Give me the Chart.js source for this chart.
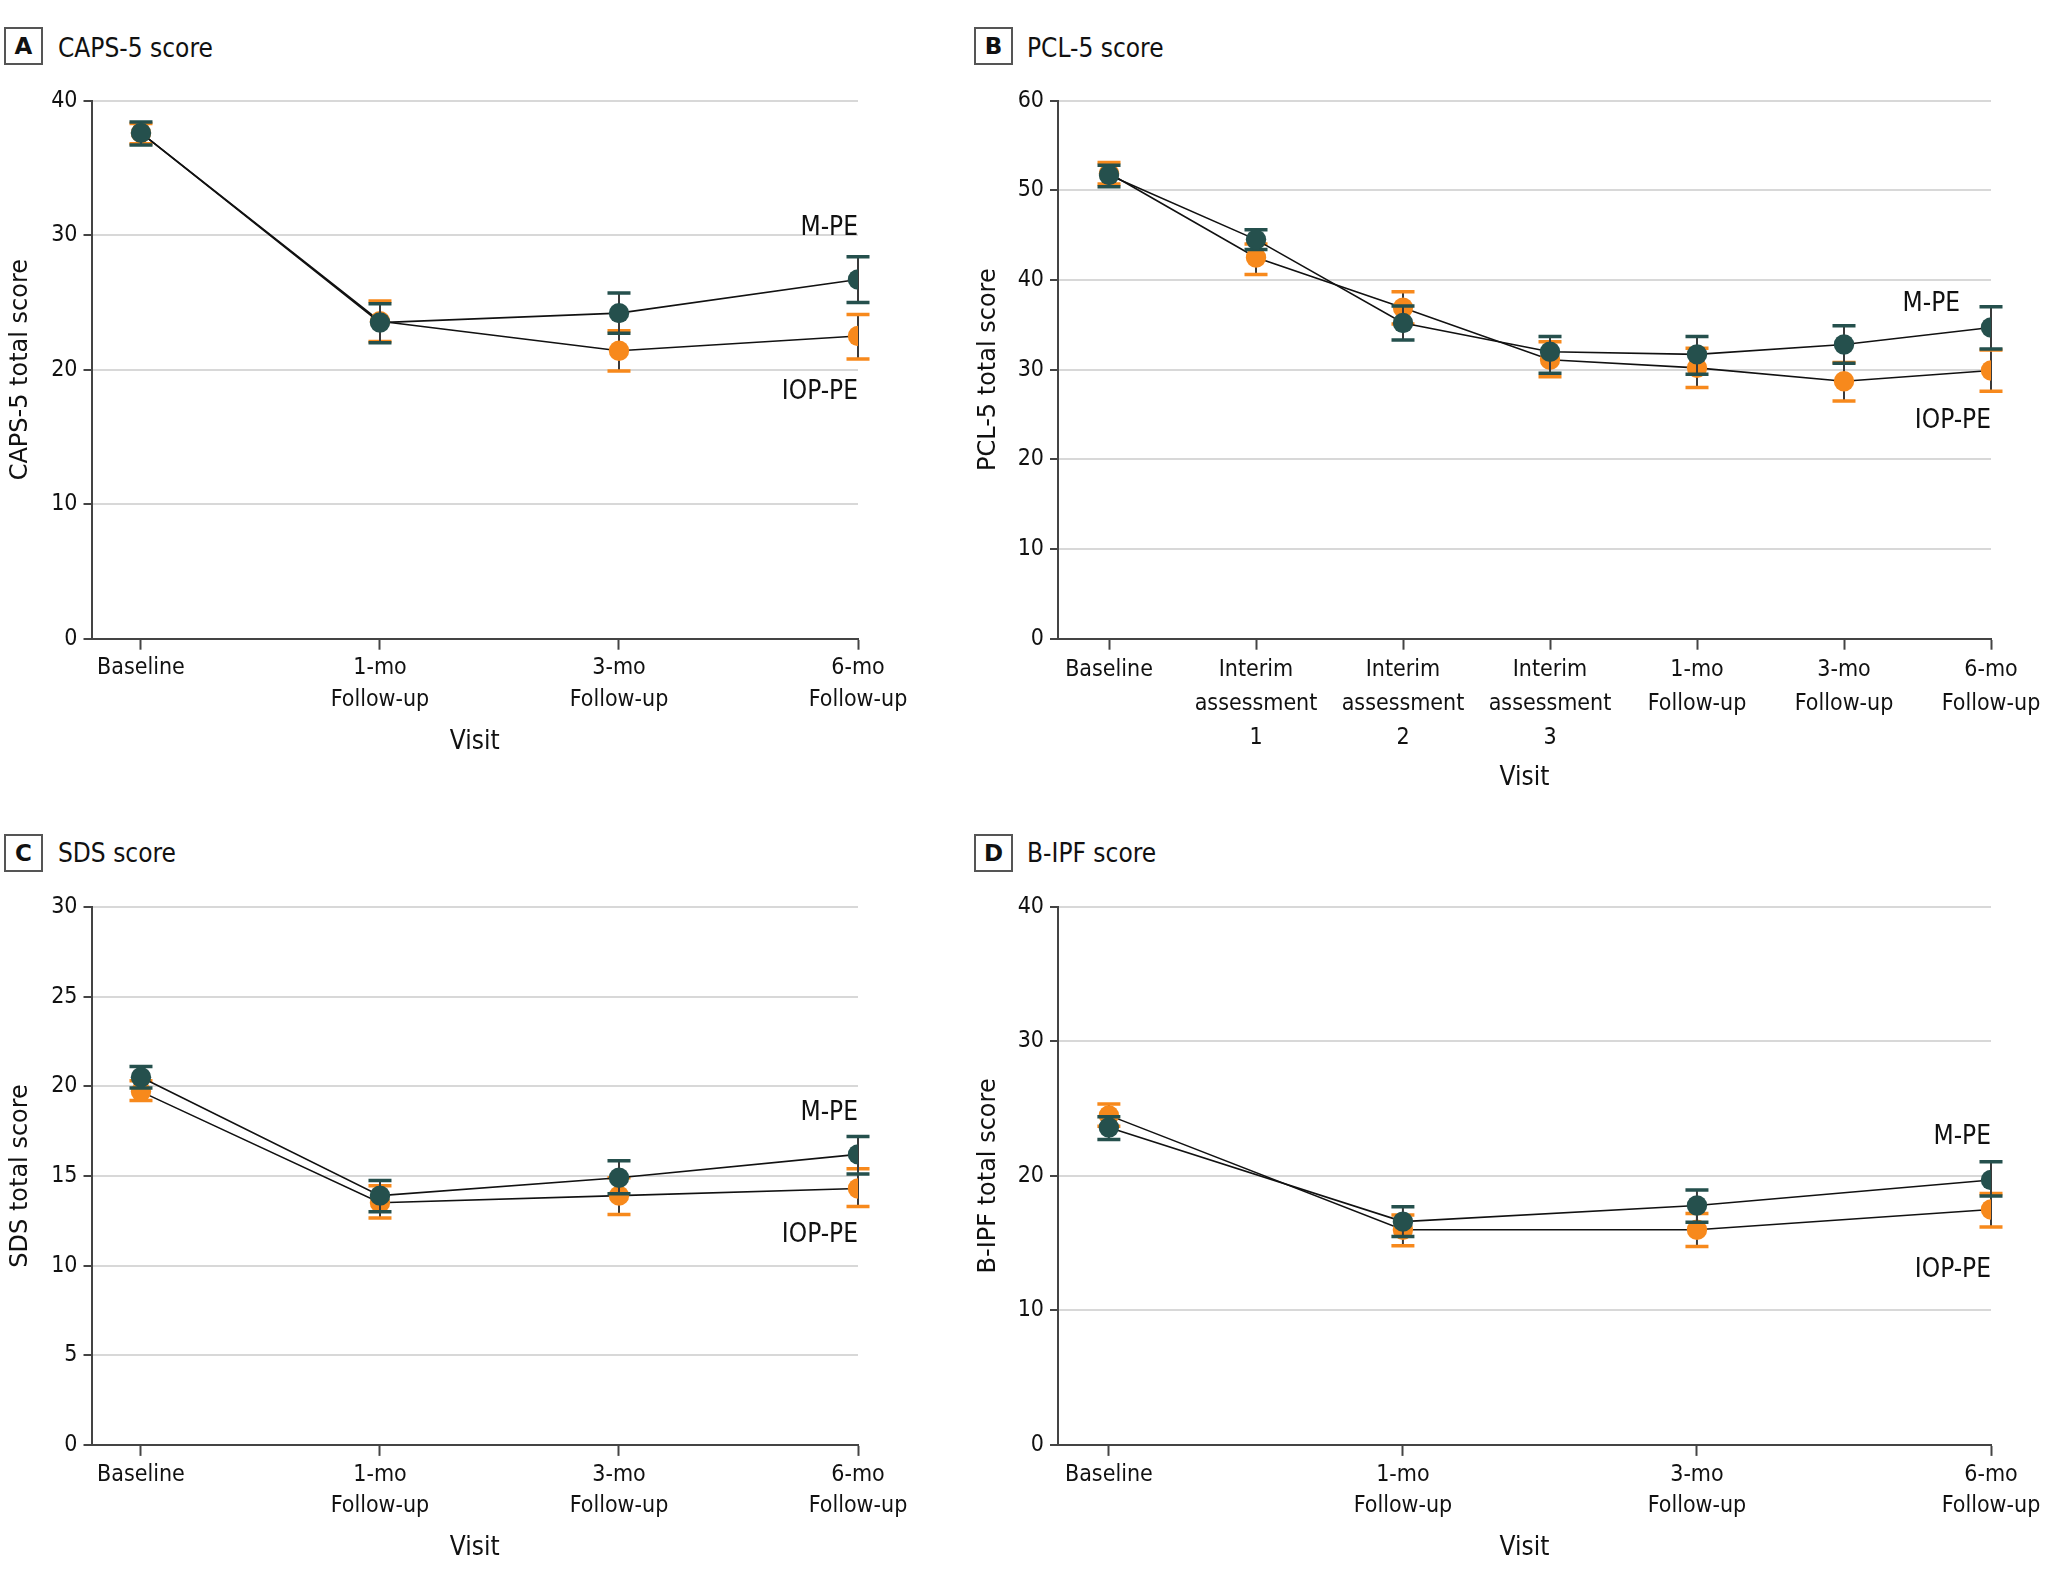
<!DOCTYPE html>
<html>
<head>
<meta charset="utf-8">
<script src="https://cdn.jsdelivr.net/npm/chart.js@4.4.1/dist/chart.umd.min.js"></script>
<style>
	body { margin: 0; background: #ffffff; }
	#page { position: relative; width: 2048px; height: 1579px; background: #ffffff; overflow: hidden; }
	canvas { position: absolute; }
	.tag { position: absolute; width: 35px; height: 34px; border: 2px solid #555555; font: bold 23px "DejaVu Sans", sans-serif; color: #111111; text-align: center; line-height: 34px; }
	.ttl { position: absolute; font: 26px "DejaVu Sans Condensed", "Liberation Sans Narrow", sans-serif; color: #111111; line-height: 30px; }
</style>
</head>
<body>
<div id="page">
	<div class="tag" style="left:4px;top:27px">A</div><div class="ttl" style="left:58px;top:33px">CAPS-5 score</div>
	<div class="tag" style="left:974px;top:27px">B</div><div class="ttl" style="left:1027px;top:33px">PCL-5 score</div>
	<div class="tag" style="left:4px;top:834px">C</div><div class="ttl" style="left:58px;top:838px">SDS score</div>
	<div class="tag" style="left:974px;top:834px">D</div><div class="ttl" style="left:1027px;top:838px">B-IPF score</div>
	<canvas id="chartA" width="960" height="790" style="left:0px;top:0px"></canvas>
	<canvas id="chartB" width="1082" height="796" style="left:966px;top:0px"></canvas>
	<canvas id="chartC" width="960" height="789" style="left:0px;top:790px"></canvas>
	<canvas id="chartD" width="1082" height="789" style="left:966px;top:790px"></canvas>
</div>
<script>
// Visit labels
const visits4 = [['Baseline'], ['1-mo', 'Follow-up'], ['3-mo', 'Follow-up'], ['6-mo', 'Follow-up']];
const visits7 = [['Baseline'], ['Interim', 'assessment', '1'], ['Interim', 'assessment', '2'], ['Interim', 'assessment', '3'],
	['1-mo', 'Follow-up'], ['3-mo', 'Follow-up'], ['6-mo', 'Follow-up']];

// A - CAPS-5
const capsM = [37.6, 23.5, 24.2, 26.7];
const capsMLow = [36.7, 22.0, 22.7, 25.0];
const capsMHigh = [38.4, 24.9, 25.7, 28.4];
const capsI = [37.6, 23.6, 21.4, 22.5];
const capsILow = [36.8, 22.1, 19.9, 20.8];
const capsIHigh = [38.3, 25.1, 22.9, 24.1];

// B - PCL-5
const pclM = [51.7, 44.5, 35.2, 32.0, 31.7, 32.8, 34.7];
const pclMLow = [50.4, 43.4, 33.3, 29.6, 29.5, 30.7, 32.3];
const pclMHigh = [52.8, 45.6, 37.1, 33.7, 33.7, 34.9, 37.0];
const pclI = [51.9, 42.5, 36.9, 31.1, 30.2, 28.7, 29.9];
const pclILow = [50.7, 40.6, 35.1, 29.2, 28.0, 26.5, 27.6];
const pclIHigh = [53.1, 44.0, 38.7, 33.1, 32.4, 30.8, 32.2];

// C - SDS
const sdsM = [20.5, 13.9, 14.9, 16.2];
const sdsMLow = [19.9, 13.0, 14.0, 15.1];
const sdsMHigh = [21.1, 14.75, 15.85, 17.2];
const sdsI = [19.7, 13.5, 13.9, 14.3];
const sdsILow = [19.2, 12.65, 12.85, 13.3];
const sdsIHigh = [20.3, 14.45, 14.9, 15.4];

// D - B-IPF
const ipfM = [23.6, 16.6, 17.8, 19.7];
const ipfMLow = [22.7, 15.5, 16.55, 18.5];
const ipfMHigh = [24.4, 17.7, 18.95, 21.05];
const ipfI = [24.5, 16.0, 16.0, 17.5];
const ipfILow = [23.7, 14.8, 14.75, 16.2];
const ipfIHigh = [25.35, 17.1, 17.2, 18.7];

// group label anchors [visit index, score]
const labelsA = { m: [3, 30.5], i: [3, 18.3] };
const labelsB = { m: [5.79, 37.3], i: [6, 24.3] };
const labelsC = { m: [3, 18.5], i: [3, 11.7] };
const labelsD = { m: [3, 22.9], i: [3, 13.0] };

const colM = '#25504d';
const colI = '#f7891c';
const condensed = '"DejaVu Sans Condensed", "Liberation Sans Narrow", sans-serif';
const regular = '"DejaVu Sans", sans-serif';

function toPoints(arr) {
	return arr.map((v, i) => ({ x: i, y: v }));
}

// error bars drawn under each dataset
const errorBars = {
	id: 'errorBars',
	beforeDatasetDraw(chart, args) {
		const ds = chart.data.datasets[args.index];
		if (!ds.errLow) return;
		const ctx = chart.ctx;
		const xs = chart.scales.x, ys = chart.scales.y;
		ctx.save();
		ds.data.forEach((p, i) => {
			const x = xs.getPixelForValue(p.x);
			const y1 = ys.getPixelForValue(ds.errLow[i]);
			const y2 = ys.getPixelForValue(ds.errHigh[i]);
			ctx.strokeStyle = '#3a3a3a';
			ctx.lineWidth = 2;
			ctx.beginPath();
			ctx.moveTo(x, y1);
			ctx.lineTo(x, y2);
			ctx.stroke();
			ctx.strokeStyle = ds.pointBackgroundColor;
			ctx.lineWidth = 3.5;
			ctx.beginPath();
			ctx.moveTo(x - 11.5, y1);
			ctx.lineTo(x + 11.5, y1);
			ctx.moveTo(x - 11.5, y2);
			ctx.lineTo(x + 11.5, y2);
			ctx.stroke();
		});
		ctx.restore();
	}
};

// M-PE / IOP-PE labels
const groupLabels = {
	id: 'groupLabels',
	afterDatasetsDraw(chart, args, opts) {
		const ctx = chart.ctx;
		const xs = chart.scales.x, ys = chart.scales.y;
		ctx.save();
		ctx.font = '26px ' + condensed;
		ctx.fillStyle = '#111111';
		ctx.textAlign = 'right';
		ctx.textBaseline = 'middle';
		ctx.fillText('M-PE', xs.getPixelForValue(opts.m[0]), ys.getPixelForValue(opts.m[1]));
		ctx.fillText('IOP-PE', xs.getPixelForValue(opts.i[0]), ys.getPixelForValue(opts.i[1]));
		ctx.restore();
	}
};

function makeChart(id, p) {
	const ctx = document.getElementById(id).getContext('2d');
	return new Chart(ctx, {
		type: 'line',
		data: {
			datasets: [
				{
					label: 'M-PE',
					data: toPoints(p.m),
					errLow: p.mLow,
					errHigh: p.mHigh,
					borderColor: '#111111',
					borderWidth: 1.6,
					pointBackgroundColor: colM,
					pointBorderWidth: 0,
					pointRadius: 10.2,
					tension: 0
				},
				{
					label: 'IOP-PE',
					data: toPoints(p.i),
					errLow: p.iLow,
					errHigh: p.iHigh,
					borderColor: '#111111',
					borderWidth: 1.6,
					pointBackgroundColor: colI,
					pointBorderWidth: 0,
					pointRadius: 10.2,
					tension: 0
				}
			]
		},
		options: {
			responsive: false,
			animation: false,
			devicePixelRatio: 1,
			layout: { padding: { left: 0, right: p.padRight, top: p.padTop, bottom: 0 } },
			plugins: {
				legend: { display: false },
				tooltip: { enabled: false },
				groupLabels: p.labels
			},
			scales: {
				x: {
					type: 'linear',
					min: p.xMin,
					max: p.visits.length - 1,
					afterBuildTicks: (axis) => { axis.ticks = p.visits.map((_, i) => ({ value: i })); },
					afterFit: (scale) => { scale.height = p.xHeight; },
					ticks: {
						autoSkip: false,
						maxRotation: 0,
						padding: 3,
						color: '#111111',
						font: { family: condensed, size: 23, lineHeight: p.tickLH },
						callback: (v) => p.visits[Math.round(v)]
					},
					grid: { drawOnChartArea: false, tickLength: 11, tickColor: '#444444', tickWidth: 2 },
					border: { color: '#444444', width: 2 },
					title: {
						display: true,
						text: 'Visit',
						color: '#111111',
						font: { family: condensed, size: 26, lineHeight: 1.2 },
						padding: { top: 0, bottom: p.visitPad }
					}
				},
				y: {
					min: 0,
					max: p.yMax,
					afterFit: (scale) => { scale.width = p.yWidth; },
					ticks: {
						stepSize: p.step,
						padding: 6,
						color: '#111111',
						font: { family: condensed, size: 23 }
					},
					grid: {
						color: (c) => c.tick && c.tick.value === 0 ? 'rgba(0,0,0,0)' : '#d8d8d8',
						lineWidth: 2,
						tickLength: 8,
						tickColor: '#444444',
						tickWidth: 2
					},
					border: { color: '#444444', width: 2 },
					title: {
						display: true,
						text: p.yTitle,
						color: '#111111',
						font: { family: regular, size: 24, lineHeight: 1.2 },
						padding: { top: p.yTitlePad, bottom: 0 }
					}
				}
			}
		},
		plugins: [errorBars, groupLabels]
	});
}

makeChart('chartA', {
	visits: visits4, m: capsM, mLow: capsMLow, mHigh: capsMHigh, i: capsI, iLow: capsILow, iHigh: capsIHigh,
	labels: labelsA, yMax: 40, step: 10, yTitle: 'CAPS-5 total score', tickLH: 1.37,
	xMin: -0.207, padRight: 102, padTop: 100.6, xHeight: 151.3, yWidth: 91.5, visitPad: 32.5, yTitlePad: 6
});
makeChart('chartB', {
	visits: visits7, m: pclM, mLow: pclMLow, mHigh: pclMHigh, i: pclI, iLow: pclILow, iHigh: pclIHigh,
	labels: labelsB, yMax: 60, step: 10, yTitle: 'PCL-5 total score', tickLH: 1.48,
	xMin: -0.347, padRight: 57, padTop: 100.6, xHeight: 157.3, yWidth: 92, visitPad: 2, yTitlePad: 8
});
makeChart('chartC', {
	visits: visits4, m: sdsM, mLow: sdsMLow, mHigh: sdsMHigh, i: sdsI, iLow: sdsILow, iHigh: sdsIHigh,
	labels: labelsC, yMax: 30, step: 5, yTitle: 'SDS total score', tickLH: 1.37,
	xMin: -0.207, padRight: 102, padTop: 116.9, xHeight: 134.1, yWidth: 91.5, visitPad: 15.5, yTitlePad: 6
});
makeChart('chartD', {
	visits: visits4, m: ipfM, mLow: ipfMLow, mHigh: ipfMHigh, i: ipfI, iLow: ipfILow, iHigh: ipfIHigh,
	labels: labelsD, yMax: 40, step: 10, yTitle: 'B-IPF total score', tickLH: 1.37,
	xMin: -0.173, padRight: 57, padTop: 116.9, xHeight: 134.1, yWidth: 92, visitPad: 15.5, yTitlePad: 8
});
</script>
</body>
</html>
